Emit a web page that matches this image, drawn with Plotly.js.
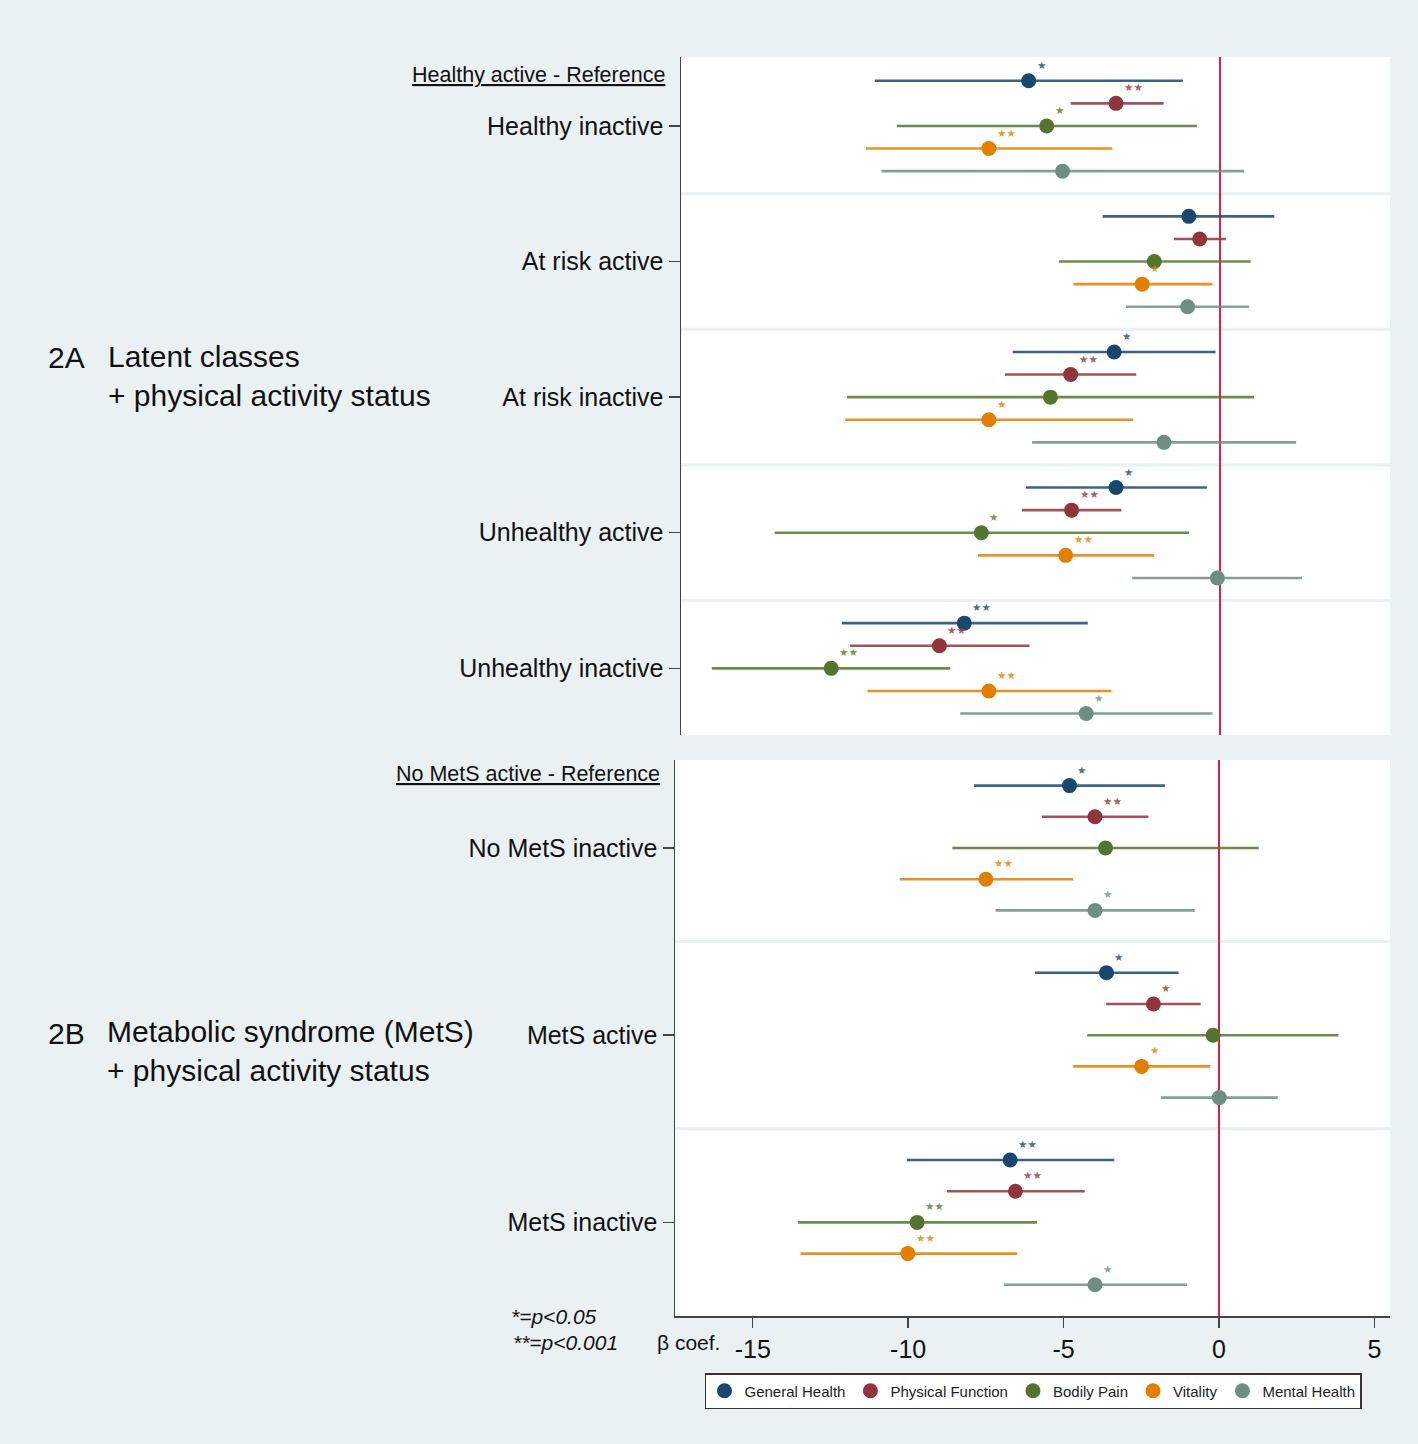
<!DOCTYPE html>
<html><head><meta charset="utf-8">
<script src="https://cdn.plot.ly/plotly-3.0.1.min.js"></script>
<style>html,body{margin:0;padding:0;background:#e9f1f3;}</style>
</head><body><div id="chart" style="width:1418px;height:1444px;"></div>
<script>
// ---- data ----
const groupsA = ['Healthy inactive','At risk active','At risk inactive','Unhealthy active','Unhealthy inactive'];
const groupsB = ['No MetS inactive','MetS active','MetS inactive'];
const seriesNames = ['General Health','Physical Function','Bodily Pain','Vitality','Mental Health'];
const seriesColors = ['#1a476f','#90353b','#55752f','#e37e00','#6e8e84'];
const xTicks = [-15,-10,-5,0,5];

// order of each array: groupsA (5) then groupsB (3)
const estGeneralHealth = [-6.14,-0.99,-3.39,-3.33,-8.21, -4.81,-3.62,-6.72];
const loGeneralHealth  = [-11.09,-3.76,-6.65,-6.23,-12.15, -7.88,-5.92,-10.04];
const hiGeneralHealth  = [-1.18,1.76,-0.13,-0.41,-4.24, -1.74,-1.30,-3.37];
const sigGeneralHealth = ['*','','*','*','**', '*','*','**'];

const estPhysicalFunction = [-3.33,-0.64,-4.79,-4.76,-9.01, -3.99,-2.11,-6.55];
const loPhysicalFunction  = [-4.79,-1.47,-6.90,-6.36,-11.88, -5.70,-3.63,-8.75];
const hiPhysicalFunction  = [-1.80,0.20,-2.68,-3.16,-6.11, -2.27,-0.59,-4.32];
const sigPhysicalFunction = ['**','','**','**','**', '**','*','**'];

const estBodilyPain = [-5.56,-2.10,-5.44,-7.66,-12.49, -3.65,-0.19,-9.71];
const loBodilyPain  = [-10.38,-5.17,-11.98,-14.31,-16.33, -8.58,-4.24,-13.54];
const hiBodilyPain  = [-0.73,1.00,1.11,-0.98,-8.66, 1.28,3.84,-5.85];
const sigBodilyPain = ['*','','','*','**', '','','**'];

const estVitality = [-7.42,-2.49,-7.42,-4.95,-7.42, -7.50,-2.49,-10.01];
const loVitality  = [-11.37,-4.70,-12.04,-7.77,-11.32, -10.27,-4.69,-13.46];
const hiVitality  = [-3.45,-0.23,-2.78,-2.10,-3.48, -4.69,-0.28,-6.49];
const sigVitality = ['**','*','*','**','**', '**','*','**'];

const estMentalHealth = [-5.05,-1.03,-1.79,-0.07,-4.29, -3.99,0.01,-3.99];
const loMentalHealth  = [-10.87,-3.01,-6.03,-2.81,-8.34, -7.19,-1.87,-6.92];
const hiMentalHealth  = [0.79,0.95,2.46,2.65,-0.23, -0.78,1.89,-1.03];
const sigMentalHealth = ['','','','','*', '*','','*'];

const est = [estGeneralHealth, estPhysicalFunction, estBodilyPain, estVitality, estMentalHealth];
const lo  = [loGeneralHealth, loPhysicalFunction, loBodilyPain, loVitality, loMentalHealth];
const hi  = [hiGeneralHealth, hiPhysicalFunction, hiBodilyPain, hiVitality, hiMentalHealth];
const sig = [sigGeneralHealth, sigPhysicalFunction, sigBodilyPain, sigVitality, sigMentalHealth];

// ---- layout helpers ----
const W = 1418, H = 1444;
const px = v => v / W;
const py = v => 1 - v / H;
const GAP = 6; // y units between group centres
const FONT = "'Liberation Sans', Arial, sans-serif";
const BG = '#e9f1f3';

function rgba(hex, a) {
  const n = parseInt(hex.slice(1), 16);
  return `rgba(${(n>>16)&255},${(n>>8)&255},${n&255},${a})`;
}

const traces = [];
const starNotes = [];
const panels = [
  {start: 0, n: groupsA.length, xa: 'x', ya: 'y'},
  {start: groupsA.length, n: groupsB.length, xa: 'x2', ya: 'y2'}
];
seriesNames.forEach((name, s) => {
  panels.forEach((p, pi) => {
    const idx = Array.from({length: p.n}, (_, k) => p.start + k);
    const xs = idx.map(k => est[s][k]);
    const ys = idx.map((k, j) => j * GAP + (s - 2));
    traces.push({
      type: 'scatter', mode: 'markers', name: name, x: xs, y: ys,
      legendgroup: name, showlegend: pi === 0,
      marker: {size: 15, color: seriesColors[s]},
      error_x: {type: 'data', symmetric: false,
        array: idx.map(k => hi[s][k] - est[s][k]),
        arrayminus: idx.map(k => est[s][k] - lo[s][k]),
        color: rgba(seriesColors[s], 0.85), thickness: 2.6, width: 0},
      xaxis: p.xa, yaxis: p.ya
    });
    idx.forEach((k, j) => {
      if (!sig[s][k]) return;
      starNotes.push({
        xref: p.xa, yref: p.ya, x: est[s][k], y: ys[j],
        text: sig[s][k].replace(/\*/g, '\u2605'),
        xanchor: 'left', yanchor: 'middle', xshift: 6, yshift: 16, showarrow: false,
        font: {family: "'DejaVu Sans', sans-serif", size: 10.5, color: rgba(seriesColors[s], 0.8)}
      });
    });
  });
});

const shapes = [];
for (let g = 0; g < groupsA.length - 1; g++)
  shapes.push({type: 'line', xref: 'x domain', yref: 'y', x0: 0, x1: 1, y0: g*GAP + GAP/2, y1: g*GAP + GAP/2,
    line: {color: BG, width: 3}, layer: 'below'});
for (let g = 0; g < groupsB.length - 1; g++)
  shapes.push({type: 'line', xref: 'x2 domain', yref: 'y2', x0: 0, x1: 1, y0: g*GAP + GAP/2, y1: g*GAP + GAP/2,
    line: {color: BG, width: 3}, layer: 'below'});

const txt = (text, x, y, size, xanchor, extra) => Object.assign({
  text: text, xref: 'paper', yref: 'paper', x: px(x), y: py(y), xanchor: xanchor || 'left', yanchor: 'middle',
  showarrow: false, align: 'left', font: {family: FONT, size: size, color: '#111'}
}, extra || {});

const annotations = [
  txt('2A', 46, 358, 30),
  txt('Latent classes<br>+ physical activity status', 106, 376, 30),
  txt('2B', 46, 1033, 30),
  txt('Metabolic syndrome (MetS)<br>+ physical activity status', 105, 1051, 30),
  txt('<u>Healthy active - Reference</u>', 667, 75, 21.5, 'right'),
  txt('<u>No MetS active - Reference</u>', 662, 774, 21.5, 'right'),
  txt('<i>*=p&lt;0.05</i>', 509, 1316, 21),
  txt('<i>**=p&lt;0.001</i>', 511, 1342, 21),
  txt('β coef.', 655, 1342, 21)
].concat(starNotes);

const yCommon = {
  ticks: 'outside', ticklen: 11, tickwidth: 1.5, tickcolor: '#444',
  showline: true, linecolor: '#444', linewidth: 1.5, showgrid: false, zeroline: false,
  tickfont: {family: FONT, size: 25, color: '#111'}, fixedrange: true
};
const layout = {
  width: W, height: H,
  margin: {l: 0, r: 0, t: 0, b: 0},
  paper_bgcolor: BG, plot_bgcolor: '#ffffff',
  font: {family: FONT, color: '#111'},
  xaxis: {domain: [px(681), px(1390)], range: [-17.32, 5.48], anchor: 'y',
    showticklabels: false, ticks: '', showgrid: false, showline: false,
    zeroline: true, zerolinecolor: '#dc1f4b', zerolinewidth: 2},
  yaxis: Object.assign({}, yCommon, {domain: [py(735), py(57)], range: [(groupsA.length-1)*GAP + 2.95, -3.05],
    anchor: 'x', tickvals: groupsA.map((g, j) => j*GAP), ticktext: groupsA}),
  xaxis2: {domain: [px(675), px(1390)], range: [-17.5, 5.5], anchor: 'y2',
    tickvals: xTicks, ticktext: xTicks.map(String), ticks: 'outside', ticklen: 10, tickwidth: 1.5, tickcolor: '#444',
    showline: true, linecolor: '#444', linewidth: 1.5, showgrid: false,
    zeroline: true, zerolinecolor: '#dc1f4b', zerolinewidth: 2,
    tickfont: {family: FONT, size: 25, color: '#111'}},
  yaxis2: Object.assign({}, yCommon, {domain: [py(1316), py(760)], range: [(groupsB.length-1)*GAP + 3.0, -2.82],
    anchor: 'x2', tickvals: groupsB.map((g, j) => j*GAP), ticktext: groupsB}),
  showlegend: true,
  legend: {orientation: 'h', x: px(1033), xanchor: 'center', y: py(1373), yanchor: 'top',
    bgcolor: '#ffffff', bordercolor: '#333', borderwidth: 1.5,
    font: {family: FONT, size: 15, color: '#222'}, itemclick: false, itemdoubleclick: false},
  shapes: shapes,
  annotations: annotations
};

Plotly.newPlot('chart', traces, layout, {displayModeBar: false, staticPlot: true});
</script></body></html>
